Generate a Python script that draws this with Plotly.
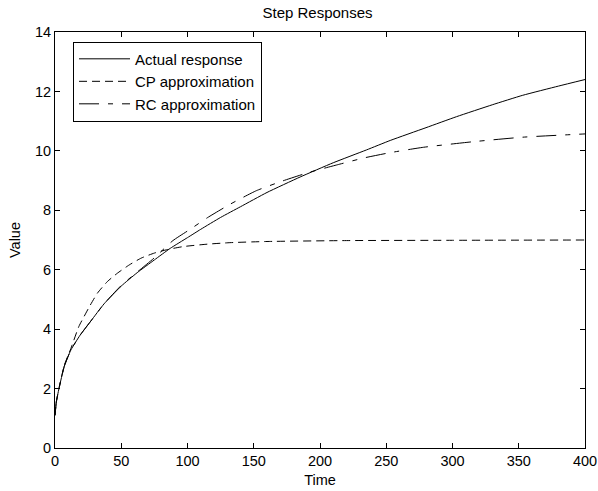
import plotly.graph_objects as go

# Data
t_actual = [0, 1, 3, 7, 12, 19, 27, 37, 50, 62, 75, 87, 100, 110, 125, 140, 160, 185, 210, 235, 253, 280, 303, 330, 353, 380, 400]
v_actual = [1.1, 1.55, 2.0, 2.75, 3.3, 3.8, 4.27, 4.85, 5.45, 5.9, 6.33, 6.72, 7.08, 7.36, 7.76, 8.12, 8.6, 9.12, 9.6, 10.03, 10.35, 10.78, 11.15, 11.55, 11.87, 12.18, 12.4]

t_cp = [0, 1, 3, 7, 12, 18, 22, 26, 32, 39.5, 47, 56, 65, 75, 85, 97, 115, 132, 160, 220, 300, 400]
v_cp = [1.1, 1.55, 2.0, 2.78, 3.35, 4.09, 4.43, 4.76, 5.21, 5.6, 5.88, 6.16, 6.39, 6.56, 6.68, 6.78, 6.86, 6.91, 6.95, 6.98, 6.99, 7.0]

t_rc = [0, 1, 3, 7, 12, 19, 27, 37, 50, 62, 75, 89, 102, 115, 132, 152, 172, 192, 213, 233, 253, 278, 316, 353, 400]
v_rc = [1.1, 1.55, 2.0, 2.75, 3.3, 3.8, 4.27, 4.85, 5.47, 5.92, 6.4, 6.98, 7.36, 7.75, 8.2, 8.66, 8.99, 9.28, 9.53, 9.76, 9.94, 10.12, 10.31, 10.46, 10.57]

x_ticks = [0, 50, 100, 150, 200, 250, 300, 350, 400]
y_ticks = [0, 2, 4, 6, 8, 10, 12, 14]

FONT = "Liberation Sans, Arial, sans-serif"

fig = go.Figure()
fig.add_trace(go.Scatter(x=t_actual, y=v_actual, mode="lines", name="Actual response",
                         line=dict(color="black", width=1, shape="spline", smoothing=0.5)))
fig.add_trace(go.Scatter(x=t_cp, y=v_cp, mode="lines", name="CP approximation",
                         line=dict(color="black", width=1, dash="8px,5px", shape="spline", smoothing=0.5)))
fig.add_trace(go.Scatter(x=t_rc, y=v_rc, mode="lines", name="RC approximation",
                         line=dict(color="black", width=1, dash="20px,9px,5px,9px", shape="spline", smoothing=0.5)))

axis_common = dict(showgrid=False, zeroline=False, showline=True, linecolor="black", linewidth=1,
                   mirror="ticks", ticks="inside", ticklen=5, tickcolor="black", tickwidth=1,
                   automargin=False,
                   tickfont=dict(family=FONT, size=14.5, color="black"))

fig.update_xaxes(range=[0, 400], tickvals=x_ticks, ticktext=[str(v) for v in x_ticks],
                 title=dict(text="Time", font=dict(family=FONT, size=14.5, color="black"), standoff=6),
                 **axis_common)
fig.update_yaxes(range=[0, 14], tickvals=y_ticks, ticktext=[str(v) for v in y_ticks],
                 title=dict(text="Value", font=dict(family=FONT, size=14.5, color="black"), standoff=10),
                 **axis_common)

fig.update_layout(
    width=598, height=491,
    margin=dict(l=55, r=13, t=32, b=43),
    paper_bgcolor="white", plot_bgcolor="white",
    title=dict(text="Step Responses", x=0.531, xanchor="center", y=0.974, yanchor="middle",
               font=dict(family=FONT, size=15, color="black")),
    legend=dict(x=0.034, y=0.977, xanchor="left", yanchor="top",
                bgcolor="white", bordercolor="black", borderwidth=1,
                font=dict(family=FONT, size=15, color="black"), itemwidth=51),
    showlegend=True,
)

fig.write_html("out.html", config={"displayModeBar": False},
               post_script="document.body.style.margin='0';document.body.style.overflow='hidden';")
